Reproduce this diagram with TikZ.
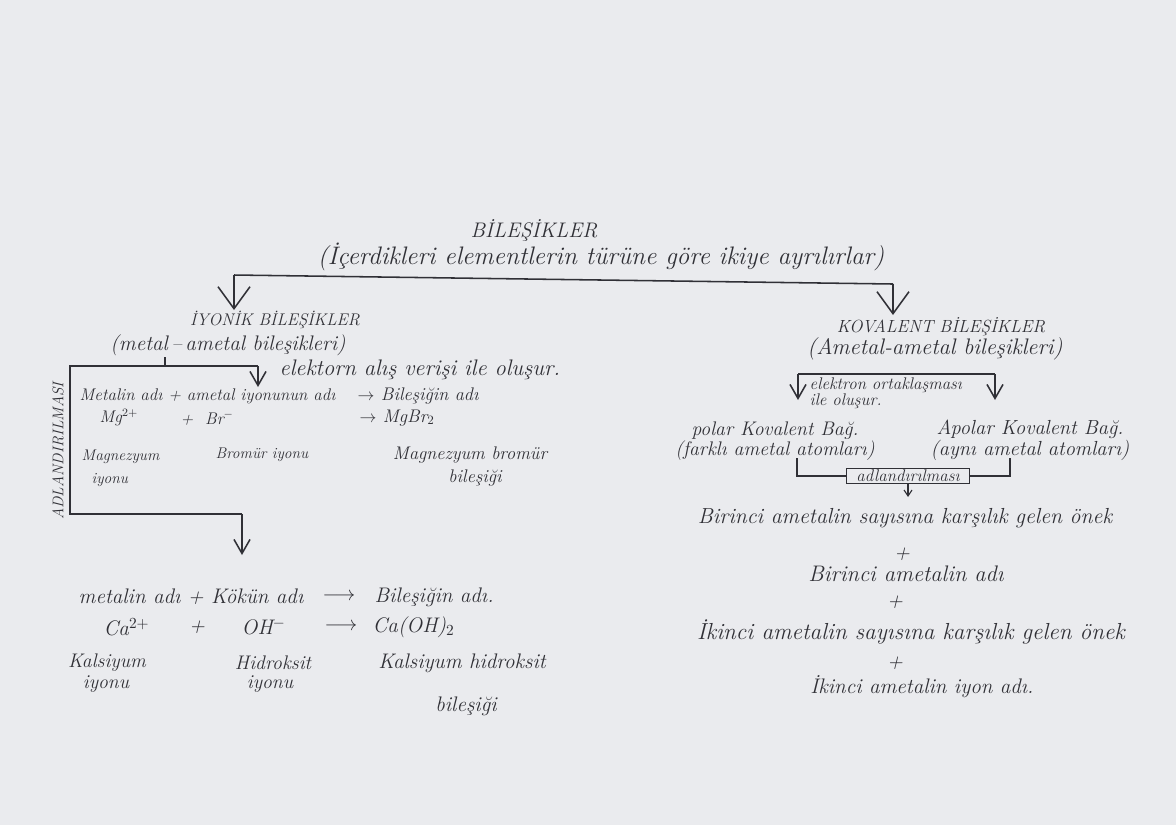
\documentclass[tikz,border=0pt]{standalone}
\usepackage{fontspec}
\usepackage{tikz}
\usetikzlibrary{arrows.meta,positioning}
\definecolor{paper}{RGB}{234,235,238}
\definecolor{ink}{RGB}{48,48,54}

\begin{document}
\begin{tikzpicture}[
    x=0.025cm, y=-0.025cm,
    hw/.style={font=\itshape\fontsize{#1}{#1}\selectfont, text=ink, inner sep=1pt},
    hw/.default=12,
    pen/.style={draw=ink, line width=1.1pt},
    bigarrow/.style={pen, -{Straight Barb[length=5.5mm,width=8mm]}},
    arrow/.style={pen, -{Straight Barb[length=3.5mm,width=4mm]}},
    smallarrow/.style={pen, line width=0.8pt, -{Straight Barb[length=1.5mm,width=2mm]}},
    namebox/.style={draw=ink, line width=0.8pt, minimum width=3.08cm, minimum height=0.38cm, inner sep=0pt}
]
\fill[paper] (0,0) rectangle (1176,825);

% Top
\node[hw=15] (root) at (534,231) {BİLEŞİKLER};
\node[hw=18] (rootnote) at (601,257) {(İçerdikleri elementlerin türüne göre ikiye ayrılırlar)};
\coordinate (splitL) at (234,275);
\coordinate (splitR) at (893,284);
\coordinate (tipL) at (234,310);
\coordinate (tipR) at (893,315);
\draw[pen] (splitL) -- (splitR);
\draw[bigarrow] (splitL) -- (tipL);
\draw[bigarrow] (splitR) -- (tipR);

% Ionic compounds
\node[hw=12] (ionic) at (275,320) {İYONİK BİLEŞİKLER};
\node[hw=15] (ionicsub) at (228,345) {(metal\,--\,ametal bileşikleri)};
\node[hw=16, anchor=west] (ionform) at (278,370) {elektorn alış verişi ile oluşur.};
\node[hw=11, rotate=90] (naming) at (58,451) {ADLANDIRILMASI};

\coordinate (tick) at (165,366);
\coordinate (boxTL) at (70,366);
\coordinate (boxTR) at (258,366);
\coordinate (boxBL) at (70,514);
\coordinate (boxBR) at (242,514);
\coordinate (tipIon) at (258,387);
\coordinate (tipCa) at (242,555);
\draw[pen] (tick |- ionicsub.south) -- (tick);
\draw[pen] (boxTR) -- (boxTL) -- (boxBL) -- (boxBR);
\draw[arrow] (boxTR) -- (tipIon);
\draw[arrow] (boxBR) -- (tipCa);

% Mg Br example
\node[hw=12, anchor=west] (rule1) at (78,396) {Metalin adı + ametal iyonunun adı};
\node[hw=13, anchor=west] (result1) at (356,396) {$\rightarrow$ Bileşiğin adı};
\node[hw=12, anchor=west] (mg) at (98,418) {Mg$^{2+}$};
\node[hw=12, anchor=west] (br) at (179,418) {+ \ Br$^-$};
\node[hw=13, anchor=west] (mgbr) at (358,418) {$\rightarrow$ MgBr$_2$};
\node[hw=11, anchor=west] (mgname) at (80,457) {Magnezyum};
\node[hw=11, anchor=west] (mgion) at (90,480) {iyonu};
\node[hw=11, anchor=west] (brname) at (214,455) {Bromür iyonu};
\node[hw=13] (mgbrname) at (470,455) {Magnezyum bromür};
\node[hw=13] (mgbrcomp) at (475,478) {bileşiği};

% Ca OH example
\node[hw=15, anchor=west] (rule2) at (77,597) {metalin adı + Kökün adı};
\node[hw=15] (to2) at (339,597) {$\longrightarrow$};
\node[hw=15, anchor=west] (result2) at (373,597) {Bileşiğin adı.};
\node[hw=15, anchor=west] (ca) at (102,627) {Ca$^{2+}$};
\node[hw=15] (plus2) at (197,627) {+};
\node[hw=15, anchor=west] (oh) at (240,627) {OH$^-$};
\node[hw=15] (to3) at (341,627) {$\longrightarrow$};
\node[hw=15, anchor=west] (caoh) at (371,627) {Ca(OH)$_2$};
\node[hw=14] (caname) at (107,663) {Kalsiyum};
\node[hw=14] (caion) at (106,684) {iyonu};
\node[hw=14] (ohname) at (273,663) {Hidroksit};
\node[hw=14] (ohion) at (270,684) {iyonu};
\node[hw=15] (caohname) at (462,663) {Kalsiyum hidroksit};
\node[hw=15] (caohcomp) at (466,706) {bileşiği};

% Covalent compounds
\node[hw=12.5] (covalent) at (941,327) {KOVALENT BİLEŞİKLER};
\node[hw=16] (covalentsub) at (935,349) {(Ametal-ametal bileşikleri)};
\coordinate (kovL) at (798,374);
\coordinate (kovR) at (995,374);
\coordinate (tipPolar) at (798,400);
\coordinate (tipApolar) at (995,400);
\draw[pen] (kovL) -- (kovR);
\draw[arrow] (kovL) -- (tipPolar);
\draw[arrow] (kovR) -- (tipApolar);
\node[hw=12, anchor=north west, align=left, font=\itshape\fontsize{12}{10}\selectfont] (covform) at (808,376) {elektron ortaklaşması\\ile oluşur.};

\node[hw=14, align=center, font=\itshape\fontsize{14}{12}\selectfont] (polar) at (775,441) {polar Kovalent Bağ.\\(farklı ametal atomları)};
\node[hw=14.5, align=center, font=\itshape\fontsize{14.5}{12}\selectfont] (apolar) at (1030,440) {Apolar Kovalent Bağ.\\(aynı ametal atomları)};

\node[namebox, hw=12] (covname) at (908,476) {adlandırılması};
\coordinate (brL) at (797,458);
\coordinate (brR) at (1010,458);
\coordinate (tipName) at (908,497);
\draw[pen, line width=0.8pt] (brL) |- (covname.west);
\draw[pen, line width=0.8pt] (brR) |- (covname.east);
\draw[smallarrow] (covname.south) -- (tipName);

% Naming rule
\node[hw=15.5] (first) at (905,518) {Birinci ametalin sayısına karşılık gelen önek};
\node[hw=15] (p1) at (902,554) {+};
\node[hw=16] (firstname) at (906,574) {Birinci ametalin adı};
\node[hw=15] (p2) at (895,602) {+};
\node[hw=16.5] (second) at (911,632) {İkinci ametalin sayısına karşılık gelen önek};
\node[hw=15] (p3) at (895,663) {+};
\node[hw=15] (secondname) at (922,687) {İkinci ametalin iyon adı.};
\end{tikzpicture}
\end{document}
